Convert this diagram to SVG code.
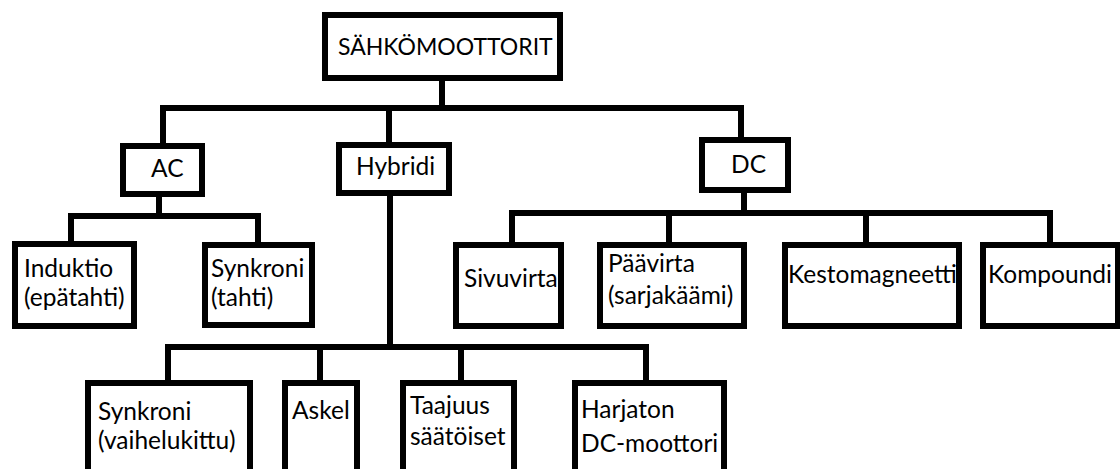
<svg xmlns="http://www.w3.org/2000/svg" width="1120" height="469" viewBox="0 0 1120 469">
<style>
.box{fill:#fff;stroke:#000;stroke-width:6}
.c{fill:none;stroke:#000;stroke-width:6;stroke-linejoin:miter}
text{font-family:Lato,"Liberation Sans",sans-serif;font-size:24.5px;fill:#000}
text.root{font-size:23px}
</style>
<rect width="1120" height="469" fill="#fff"/>
<g id="connectors">
<path class="c" d="M442 78 V108"/>
<path class="c" d="M163 147 V108 H741 V140"/>
<path class="c" d="M389 108 V145"/>
<path class="c" d="M159 194 V216"/>
<path class="c" d="M71 244 V216 H258 V245"/>
<path class="c" d="M390 193 V347"/>
<path class="c" d="M168 383 V347 H646 V383"/>
<path class="c" d="M320 347 V383"/>
<path class="c" d="M461 347 V383"/>
<path class="c" d="M744 190 V213"/>
<path class="c" d="M512 245 V213 H1050 V245"/>
<path class="c" d="M669 213 V245"/>
<path class="c" d="M866 213 V245"/>
</g>
<g id="root"><rect class="box" x="325" y="15" width="235" height="63"/><text class="root" x="338" y="55">SÄHKÖMOOTTORIT</text></g>
<g id="ac"><rect class="box" x="123" y="146" width="79" height="48"/><text x="151" y="177">AC</text></g>
<g id="hybridi"><rect class="box" x="339" y="145" width="110" height="48"/><text x="356" y="175">Hybridi</text></g>
<g id="dc"><rect class="box" x="702" y="140" width="86" height="50"/><text x="731" y="173">DC</text></g>
<g id="induktio"><rect class="box" x="15" y="244" width="119" height="82"/><text x="24" y="277">Induktio</text><text x="24" y="306">(epätahti)</text></g>
<g id="synkroni-ac"><rect class="box" x="205" y="245" width="107" height="80"/><text x="211" y="277">Synkroni</text><text x="211" y="306">(tahti)</text></g>
<g id="sivuvirta"><rect class="box" x="456" y="245" width="105" height="81"/><text x="464" y="287">Sivuvirta</text></g>
<g id="paavirta"><rect class="box" x="600" y="245" width="144" height="81"/><text x="608" y="272">Päävirta</text><text x="608" y="304">(sarjakäämi)</text></g>
<g id="kestomagneetti"><rect class="box" x="785" y="245" width="174" height="81"/><text x="788" y="283">Kestomagneetti</text></g>
<g id="kompoundi"><rect class="box" x="983" y="245" width="135" height="81"/><text x="988" y="283">Kompoundi</text></g>
<g id="synkroni-vaihe"><rect class="box" x="88" y="383" width="162" height="92"/><text x="98" y="420">Synkroni</text><text x="98" y="449">(vaihelukittu)</text></g>
<g id="askel"><rect class="box" x="285" y="383" width="72" height="92"/><text x="292" y="419">Askel</text></g>
<g id="taajuus"><rect class="box" x="403" y="383" width="111" height="92"/><text x="410" y="414">Taajuus</text><text x="410" y="445">säätöiset</text></g>
<g id="harjaton"><rect class="box" x="575" y="383" width="149" height="92"/><text x="581" y="418">Harjaton</text><text x="581" y="452">DC-moottori</text></g>
</svg>
